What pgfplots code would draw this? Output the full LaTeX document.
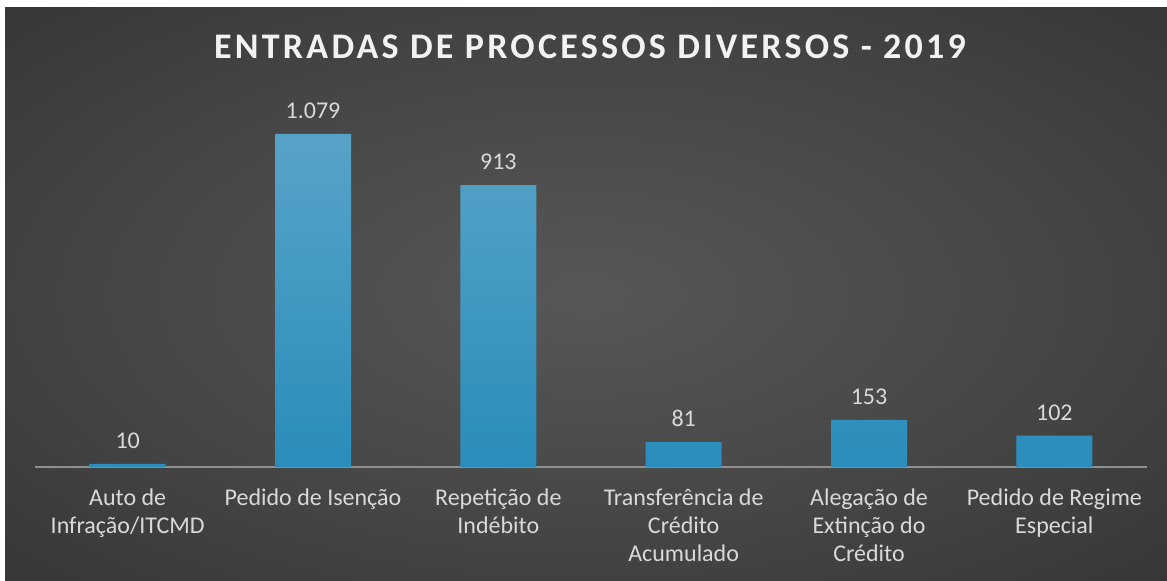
\documentclass[border=0pt]{standalone}
\usepackage{fontspec}
\setmainfont{Carlito}
\newfontfamily\titlefont[LetterSpace=9]{Carlito}
\usepackage{pgfplots}
\pgfplotsset{compat=1.18}
\definecolor{bartop}{HTML}{57A3C7}
\definecolor{barbot}{HTML}{2A8DBB}
\definecolor{txt}{HTML}{D9D9D9}
\definecolor{axisgray}{HTML}{8F8F8F}
\definecolor{bgin}{HTML}{575757}
\definecolor{bgmid}{HTML}{464646}
\definecolor{bgout}{HTML}{272727}
\pgfdeclareradialshading{bgshade}{\pgfpointorigin}{color(0bp)=(bgin); color(20bp)=(bgmid); color(52bp)=(bgout)}
\begin{document}
\begin{tikzpicture}
\fill[white] (0,0) rectangle (583.5pt,290pt);
\shade[shading=bgshade] (2.5pt,0) rectangle (583.5pt,286pt);
\node[anchor=base, text=white!95!black, inner sep=0pt] at (295pt,261pt)
  {\titlefont\bfseries\fontsize{18}{22}\selectfont ENTRADAS DE PROCESSOS DIVERSOS - 2019};
\begin{axis}[
  at={(17.5pt,56.5pt)}, anchor=south west,
  scale only axis, width=556pt, height=185.2pt,
  xmin=-0.5, xmax=5.5, ymin=0, ymax=1200,
  ybar, bar width=38pt,
  axis y line=none, axis x line*=bottom,
  x axis line style={draw=axisgray, line width=1pt},
  xtick={0,1,2,3,4,5},
  xticklabels={{Auto de\\Infração/ITCMD},{Pedido de Isenção},{Repetição de\\Indébito},{Transferência de\\Crédito\\Acumulado},{Alegação de\\Extinção do\\Crédito},{Pedido de Regime\\Especial}},
  xtick style={draw=none},
  xticklabel style={font=\fontsize{12}{14}\selectfont, text=txt, align=center, anchor=north, yshift=-3pt},
  nodes near coords, point meta=explicit symbolic,
  every node near coord/.append style={font=\fontsize{12}{14}\selectfont, text=txt, yshift=4pt},
  clip=false,
]
\addplot[draw=none, top color=bartop, bottom color=barbot] coordinates {
  (0,10) [10]
  (1,1079) [1.079]
  (2,913) [913]
  (3,81) [81]
  (4,153) [153]
  (5,102) [102]
};
\end{axis}
\pgfresetboundingbox
\path (0,0) rectangle (583.5pt,290pt);
\end{tikzpicture}
\end{document}
